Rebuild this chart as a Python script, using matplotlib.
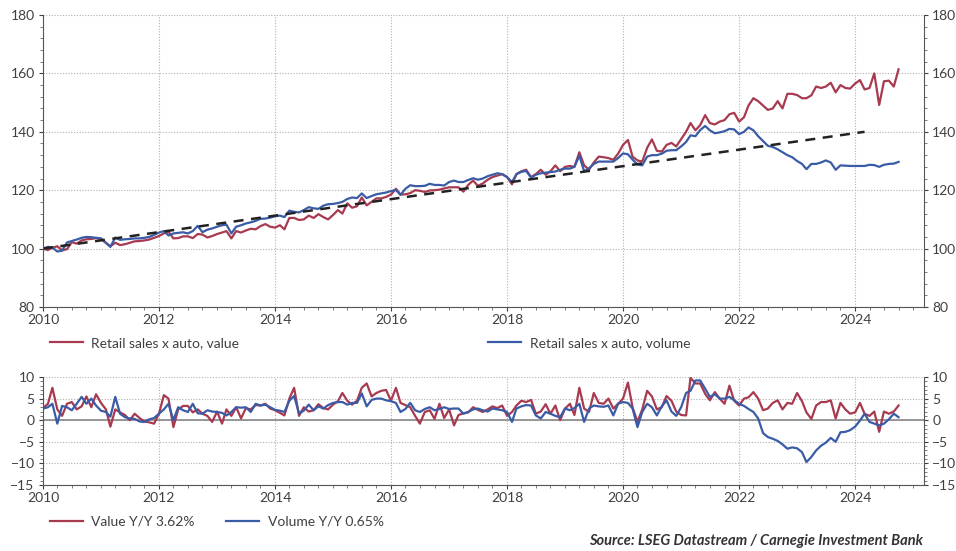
import matplotlib
matplotlib.use('Agg')
import matplotlib.pyplot as plt
import matplotlib.dates as mdates
from matplotlib.ticker import MultipleLocator
import pandas as pd

plt.rcParams['font.family'] = ['Lato', 'DejaVu Sans']

months = pd.date_range('2010-01-01', periods=178, freq='MS')

# index levels, 2010 = 100
value_idx = [
    100, 99.5, 100.3, 100.8, 99.4, 99.8, 102.2, 101.7, 102.8, 103.2, 103.3, 103.6,
    103.3, 102, 100.8, 102, 101.2, 101.5, 102, 102.5, 102.6, 102.8, 103.1, 103.7,
    104.3, 105.2, 105.8, 103.5, 103.6, 104.2, 104.2, 103.6, 105, 104.8, 103.8, 104.3,
    105, 105.5, 106, 103.5, 106, 105.5, 106.2, 106.8, 106.6, 107.7, 108.4, 107.5,
    107.2, 108, 106.6, 110.5, 110.5, 109.8, 110, 111.3, 110.5, 111.8, 110.8, 110,
    111.5, 113.2, 112, 115.5, 114, 114.5, 117.5, 114.8, 116, 117.2, 117.2, 117.7,
    118.5, 120.5, 118.5, 118.6, 119, 120, 119.8, 119.4, 119.9, 120, 120.2, 120.6,
    121, 121, 121, 119.5, 121.8, 123.3, 121.5, 122.3, 123.6, 124.5, 125, 125.5,
    124.5, 122, 125.5, 126.5, 127, 124.5, 125.5, 127, 125.3, 126.5, 128.5, 126.5,
    128, 128.3, 128, 133, 128.5, 127, 129.5, 131.5, 131.3, 131, 130.4, 132.5,
    135.5, 137.2, 131.5, 130.2, 129.8, 134.5, 137.4, 133.5, 133.2, 135.5, 136.2, 135,
    137.5, 140, 143, 140.5, 142.3, 145.7, 143, 142.5, 143.5, 144, 146, 146.5,
    143.5, 145, 149, 151.5, 150.5, 149, 147.5, 148, 150.5, 148, 153, 153,
    152.6, 151.5, 151.5, 152.5, 155.5, 155, 155.5, 156.8, 153.5, 156, 155, 154.8,
    156.5, 157.7, 154.5, 155, 160, 149.2, 157.3, 157.5, 155.5, 161.4,
]
volume_idx = [
    100, 100.6, 100.4, 99, 99.3, 102.1, 102.6, 103.1, 103.7, 104, 103.9, 103.7,
    103.5, 102, 100.6, 103.8, 103, 103.2, 103.3, 103.5, 103.5, 103.7, 104, 104.7,
    105.5, 106, 104.5, 105.2, 105.4, 105.6, 105.2, 106, 107.8, 105.6, 106.5, 106.9,
    107.5, 108, 108.2, 105.2, 107.5, 108, 108.6, 109, 109.5, 110.2, 110.3, 110.6,
    111.1, 111.3, 110.8, 113, 112.6, 112.4, 113.2, 114.2, 113.8, 113.6, 114.7, 115.2,
    115.3, 115.6, 116, 117, 117.5, 117.3, 118.9, 117.3, 118, 118.6, 118.9, 119.2,
    119.7, 120.1, 118.4, 120.5, 121.7, 121.4, 121.4, 121.5, 122.2, 121.8, 121.8, 121.6,
    122.8, 123.3, 122.8, 122.8, 123.5, 124.1, 123.6, 124, 124.8, 125.3, 125.8, 125.5,
    124.5, 122.8, 125.5, 126.3, 126.6, 124.3, 125.3, 125.8, 126, 126.2, 126.4, 127,
    127.4, 127.4, 128, 131.8, 126.5, 127.5, 129, 129.8, 129.8, 129.8, 129.8, 131,
    132.6, 132.3, 130.5, 128.8, 128.5, 131.5, 132, 132, 132.5, 133.5, 133.7, 133.7,
    135, 136.5, 138.8, 138.5, 140.6, 142, 140.5, 139.5, 139.8, 140.2, 141, 140.8,
    139.2, 140, 141.5, 140.5, 138.5, 136.8, 135.2, 134.8, 134, 133, 132, 131.3,
    130, 129, 127.2, 129, 129, 129.5, 130.2, 129.5, 127, 128.5, 128.4, 128.3,
    128.3, 128.3, 128.3, 128.7, 128.6, 128, 128.7, 129, 129.1, 129.7,
]

# dashed trend line
trend_dates = pd.to_datetime(['2010-01-01', '2024-03-01'])
trend_vals = [100, 140]

# year-over-year, %
value_yoy = [
    2.8, 3.8, 7.5, 2.5, 1.0, 3.8, 4.2, 2.5, 3.2, 5.5, 3.0, 6.0,
    4.0, 2.5, -1.5, 2.5, 1.8, 1.2, 0.0, 1.5, 0.5, -0.3, -0.5, -0.8,
    1.5, 5.8, 5.0, -1.6, 2.5, 3.3, 3.3, 1.8, 2.5, 1.5, 1.0, -0.4,
    2.0, -0.8, 2.5, 1.0, 3.0, 0.4, 2.8, 2.5, 3.5, 3.4, 3.8, 2.7,
    2.3, 1.7, 1.1, 5.0, 7.5, 1.0, 3.0, 2.0, 2.3, 3.7, 2.8, 2.5,
    3.6, 4.4, 6.3, 4.5, 3.6, 4.5, 7.5, 8.5, 5.5, 6.3, 6.8, 7.0,
    4.5, 7.5, 4.0, 3.5, 3.0, 1.0, -0.8, 1.9, 2.3, 0.3, 3.8, 0.5,
    2.5, -1.2, 1.2, 1.6, 1.8, 3.0, 2.4, 1.9, 2.5, 3.2, 2.8, 3.4,
    1.0, 1.9, 3.4, 4.5, 4.2, 4.7, 1.5, 2.0, 3.7, 1.5, 3.4, 0.0,
    2.7, 3.8, 1.2, 7.5, 2.7, 1.9, 6.3, 4.0, 3.8, 5.0, 2.7, 3.8,
    5.0, 8.7, 3.0, -0.4, 2.5, 6.8, 5.5, 2.5, 3.0, 5.6, 4.5, 2.0,
    1.2, 1.1, 9.8, 8.5, 8.5, 6.1, 4.6, 6.5, 5.0, 3.8, 8.0, 4.5,
    3.4, 5.0, 5.3, 6.5, 5.0, 2.3, 2.7, 4.0, 4.6, 2.5, 4.0, 3.8,
    6.3, 4.4, 1.8, 0.3, 3.4, 4.2, 4.2, 4.6, 0.4, 4.0, 2.5, 1.5,
    1.8, 4.0, 1.5, 1.0, 2.0, -2.7, 2.0, 1.5, 2.0, 3.4,
]
volume_yoy = [
    2.7, 3.0, 3.8, -0.8, 3.3, 3.0, 2.3, 3.8, 5.4, 3.8, 5.0, 3.4,
    2.2, 1.9, 0.8, 5.4, 1.5, 0.7, 0.4, 0.3, -0.3, -0.4, 0.2, 0.5,
    1.5, 2.5, 3.8, 0.0, 3.0, 2.3, 1.9, 3.8, 1.6, 1.5, 2.3, 2.0,
    1.9, 1.7, 1.1, 1.9, 3.0, 2.9, 3.0, 1.9, 3.8, 3.4, 3.6, 3.0,
    2.4, 2.2, 1.9, 4.5, 5.6, 1.6, 2.2, 3.6, 2.3, 3.2, 2.7, 3.5,
    4.0, 4.2, 4.2, 3.6, 4.0, 4.0, 6.2, 3.2, 4.7, 5.0, 5.0, 4.6,
    4.4, 4.0, 1.9, 2.6, 4.0, 2.3, 1.9, 2.6, 3.0, 2.3, 2.6, 3.0,
    2.6, 2.7, 2.7, 1.5, 1.9, 2.5, 2.7, 2.3, 2.0, 2.7, 2.5, 2.3,
    1.9, -0.4, 2.7, 3.2, 3.5, 3.4, 1.1, 0.4, 1.9, 1.5, 1.0, 0.7,
    2.7, 2.3, 2.8, 3.8, -0.4, 2.7, 3.4, 3.2, 3.1, 3.4, 1.1, 3.8,
    4.2, 4.0, 2.7, -1.6, 1.9, 3.8, 3.0, 1.1, 3.2, 4.6, 2.0, 1.0,
    3.0, 6.3, 6.8, 9.2, 9.2, 7.3, 5.4, 6.0, 5.0, 5.0, 5.4, 4.6,
    3.8, 3.3, 2.6, 1.9, 0.4, -3.0, -3.9, -4.3, -4.8, -5.6, -6.6, -6.3,
    -6.5, -7.4, -9.7, -8.5, -7.0, -5.9, -5.2, -4.1, -5.0, -2.8, -2.7, -2.3,
    -1.5, -0.1, 1.5, -0.4, -0.8, -1.2, -0.8, 0.2, 1.5, 0.7,
]

red = '#a83a50'
blue = '#3a5ca6'
txt = '#404040'
grid_c = '#b0b0b0'

fig = plt.figure(figsize=(9.56, 5.51), dpi=100)
ax1 = fig.add_axes([0.045, 0.4428, 0.9215, 0.530])
ax2 = fig.add_axes([0.045, 0.1198, 0.9215, 0.196])

xmin = pd.Timestamp('2010-01-01')
xmax = pd.Timestamp('2025-03-10')

l_val, = ax1.plot(months, value_idx, color=red, lw=1.6)
l_vol, = ax1.plot(months, volume_idx, color=blue, lw=1.6)
ax1.plot(trend_dates, trend_vals, color='#222222', lw=1.8, ls=(0, (4, 3)))
ax1.set_ylim(80, 180)
ax1.yaxis.set_major_locator(MultipleLocator(20))
ax1.yaxis.set_minor_locator(MultipleLocator(4))

l_vy, = ax2.plot(months, value_yoy, color=red, lw=1.6)
l_uy, = ax2.plot(months, volume_yoy, color=blue, lw=1.6)
ax2.axhline(0, color='#888888', lw=1.2, zorder=1)
ax2.set_ylim(-15, 10)
ax2.yaxis.set_major_locator(MultipleLocator(5))
ax2.yaxis.set_minor_locator(MultipleLocator(1))

for ax in (ax1, ax2):
    ax.set_xlim(xmin, xmax)
    ax.xaxis.set_major_locator(mdates.YearLocator(2))
    ax.xaxis.set_major_formatter(mdates.DateFormatter('%Y'))
    ax.xaxis.set_minor_locator(mdates.MonthLocator(bymonth=[1, 4, 7, 10]))
    ax.grid(True, which='major', color=grid_c, lw=0.8, ls=(0, (1, 1.5)))
    ax.set_axisbelow(True)
    ax.spines['top'].set_visible(False)
    for s in ('left', 'right', 'bottom'):
        ax.spines[s].set_color('#555555')
        ax.spines[s].set_linewidth(0.8)
    ax.tick_params(axis='both', which='major', labelsize=10, colors=txt,
                   length=3, width=0.8, right=True, labelright=True)
    ax.tick_params(axis='both', which='minor', length=2, width=0.6,
                   colors='#666666', right=True)
    ax.tick_params(axis='x', which='major', pad=2)
    ax.tick_params(axis='y', which='major', pad=3)

leg_kw = dict(frameon=False, fontsize=10, handlelength=2.4, handletextpad=0.6,
              borderaxespad=0, borderpad=0, loc='center left', labelcolor=txt)
fig.legend([l_val], ['Retail sales x auto, value'], bbox_to_anchor=(0.052, 0.377), **leg_kw)
fig.legend([l_vol], ['Retail sales x auto, volume'], bbox_to_anchor=(0.5105, 0.377), **leg_kw)
fig.legend([l_vy], ['Value Y/Y 3.62%'], bbox_to_anchor=(0.052, 0.053), **leg_kw)
fig.legend([l_uy], ['Volume Y/Y 0.65%'], bbox_to_anchor=(0.2364, 0.053), **leg_kw)

fig.text(0.9655, 0.018, 'Source: LSEG Datastream / Carnegie Investment Bank',
         ha='right', va='center', fontsize=10.5, fontweight='bold', fontstyle='italic',
         color='#333333')

fig.savefig('out.png', dpi=100)
